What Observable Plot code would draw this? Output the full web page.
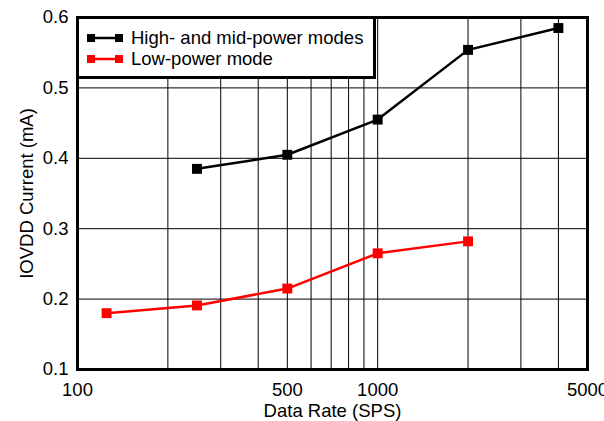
<!DOCTYPE html>
<html>
<head>
<meta charset="utf-8">
<script src="https://cdn.jsdelivr.net/npm/d3@7"></script>
<script src="https://cdn.jsdelivr.net/npm/@observablehq/plot@0.6"></script>
<style>
  html, body { margin: 0; padding: 0; background: #fff; }
  #wrap { position: relative; width: 604px; height: 421px; font-family: "Liberation Sans", Arial, sans-serif; }
  #legend { position: absolute; left: 76px; top: 16px; width: 300px; height: 63px; box-sizing: border-box;
            border: 3px solid #000; background: #fff; }
  .row { position: absolute; left: 8px; height: 20px; display: flex; align-items: center; font-size: 18.5px; color: #000; white-space: nowrap; }
  .row svg { margin-right: 8px; }
</style>
</head>
<body>
<div id="wrap"><div id="legend"></div></div>
<script>
const seriesNames = ["High- and mid-power modes", "Low-power mode"];
const seriesColors = ["#000000", "#ff0000"];
const highRates = [250, 500, 1000, 2000, 4000];
const highCurrent = [0.385, 0.405, 0.455, 0.554, 0.585];
const lowRates = [125, 250, 500, 1000, 2000];
const lowCurrent = [0.180, 0.191, 0.215, 0.265, 0.282];
const xTicks = [100, 500, 1000, 5000];
const yTicks = [0.1, 0.2, 0.3, 0.4, 0.5, 0.6];
const xGrid = [200, 300, 400, 500, 600, 700, 800, 900, 1000, 2000, 3000, 4000];
const yGrid = [0.2, 0.3, 0.4, 0.5];

const data = [
  ...highRates.map((r, i) => ({rate: r, current: highCurrent[i], series: seriesNames[0]})),
  ...lowRates.map((r, i) => ({rate: r, current: lowCurrent[i], series: seriesNames[1]}))
];

const chart = Plot.plot({
  width: 604,
  height: 421,
  marginLeft: 77,
  marginRight: 17,
  marginTop: 17,
  marginBottom: 52,
  style: {fontFamily: '"Liberation Sans", Arial, sans-serif', fontSize: "18px", color: "#000", background: "#fff", overflow: "visible"},
  x: {type: "log", domain: [100, 5000]},
  y: {domain: [0.1, 0.6]},
  color: {domain: seriesNames, range: seriesColors},
  marks: [
    Plot.ruleX(xGrid, {stroke: "#000", strokeWidth: 1}),
    Plot.ruleY(yGrid, {stroke: "#000", strokeWidth: 1}),
    Plot.axisX({ticks: [], tickSize: 0,
      label: "Data Rate (SPS)", labelAnchor: "center", labelArrow: "none", labelOffset: 47, fontSize: 18.5}),
    Plot.text(xTicks, {x: d => d, text: d => String(d), frameAnchor: "bottom", lineAnchor: "top", dy: 13, fontSize: 18.5, fill: "#000"}),
    Plot.axisY({ticks: yTicks, tickFormat: d3.format(".1f"), tickSize: 0, tickPadding: 9, fontSize: 18.5,
      label: "IOVDD Current (mA)", labelAnchor: "center", labelArrow: "none", labelOffset: 58}),
    Plot.line(data, {x: "rate", y: "current", z: "series", stroke: "series", strokeWidth: 2.5}),
    Plot.dot(data, {x: "rate", y: "current", fill: "series", symbol: "square", r: 5.6, stroke: "none"}),
    Plot.frame({stroke: "#000", strokeWidth: 3})
  ]
});
document.getElementById("wrap").prepend(chart);

const legend = document.getElementById("legend");
seriesNames.forEach((name, i) => {
  const row = document.createElement("div");
  row.className = "row";
  row.style.top = (i === 0 ? 9 : 30) + "px";
  row.innerHTML = `<svg width="36" height="10"><line x1="4" x2="32" y1="5" y2="5" stroke="${seriesColors[i]}" stroke-width="2.5"/>` +
    `<rect x="0" y="1" width="8" height="8" fill="${seriesColors[i]}"/><rect x="28" y="1" width="8" height="8" fill="${seriesColors[i]}"/></svg>` +
    `<span>${name}</span>`;
  legend.appendChild(row);
});
</script>
</body>
</html>
